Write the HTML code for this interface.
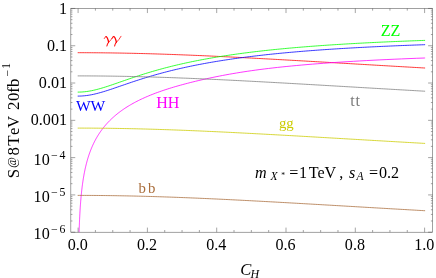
<!DOCTYPE html>
<html><head><meta charset="utf-8"><title>plot</title>
<style>html,body{margin:0;padding:0;background:#fff;}svg{display:block;will-change:transform;}body{font-family:"Liberation Serif",serif;}</style></head>
<body>
<svg width="436" height="278" viewBox="0 0 436 278">
<rect width="436" height="278" fill="#fff"/>
<g fill="none" stroke-width="0.78" stroke-linejoin="round">
<path stroke="#ff0000" d="M77.68 52.70 L79.42 52.70 L81.16 52.70 L82.90 52.70 L84.63 52.71 L86.37 52.71 L88.11 52.72 L89.84 52.73 L91.58 52.74 L93.32 52.75 L95.06 52.76 L96.79 52.77 L98.53 52.79 L100.27 52.80 L102.00 52.82 L103.74 52.84 L105.48 52.86 L107.22 52.88 L108.95 52.90 L110.69 52.92 L112.43 52.95 L114.16 52.97 L115.90 53.00 L117.64 53.03 L119.38 53.06 L121.11 53.09 L122.85 53.12 L124.59 53.15 L126.33 53.19 L128.06 53.22 L129.80 53.26 L131.54 53.29 L133.27 53.33 L135.01 53.37 L136.75 53.41 L138.49 53.46 L140.22 53.50 L141.96 53.54 L143.70 53.59 L145.43 53.63 L147.17 53.68 L148.91 53.73 L150.65 53.78 L152.38 53.83 L154.12 53.88 L155.86 53.93 L157.59 53.99 L159.33 54.04 L161.07 54.10 L162.81 54.15 L164.54 54.21 L166.28 54.27 L168.02 54.33 L169.75 54.39 L171.49 54.45 L173.23 54.51 L174.97 54.58 L176.70 54.64 L178.44 54.71 L180.18 54.77 L181.91 54.84 L183.65 54.91 L185.39 54.97 L187.13 55.04 L188.86 55.11 L190.60 55.18 L192.34 55.26 L194.08 55.33 L195.81 55.40 L197.55 55.47 L199.29 55.55 L201.02 55.62 L202.76 55.70 L204.50 55.78 L206.24 55.85 L207.97 55.93 L209.71 56.01 L211.45 56.09 L213.18 56.17 L214.92 56.25 L216.66 56.33 L218.40 56.41 L220.13 56.50 L221.87 56.58 L223.61 56.66 L225.34 56.75 L227.08 56.83 L228.82 56.92 L230.56 57.00 L232.29 57.09 L234.03 57.18 L235.77 57.26 L237.50 57.35 L239.24 57.44 L240.98 57.53 L242.72 57.62 L244.45 57.71 L246.19 57.80 L247.93 57.89 L249.66 57.98 L251.40 58.07 L253.14 58.16 L254.88 58.26 L256.61 58.35 L258.35 58.44 L260.09 58.53 L261.83 58.63 L263.56 58.72 L265.30 58.82 L267.04 58.91 L268.77 59.01 L270.51 59.10 L272.25 59.20 L273.99 59.29 L275.72 59.39 L277.46 59.49 L279.20 59.58 L280.93 59.68 L282.67 59.78 L284.41 59.87 L286.15 59.97 L287.88 60.07 L289.62 60.17 L291.36 60.27 L293.09 60.37 L294.83 60.46 L296.57 60.56 L298.31 60.66 L300.04 60.76 L301.78 60.86 L303.52 60.96 L305.25 61.06 L306.99 61.16 L308.73 61.26 L310.47 61.36 L312.20 61.46 L313.94 61.56 L315.68 61.66 L317.41 61.76 L319.15 61.86 L320.89 61.97 L322.63 62.07 L324.36 62.17 L326.10 62.27 L327.84 62.37 L329.57 62.47 L331.31 62.57 L333.05 62.67 L334.79 62.78 L336.52 62.88 L338.26 62.98 L340.00 63.08 L341.74 63.18 L343.47 63.28 L345.21 63.39 L346.95 63.49 L348.68 63.59 L350.42 63.69 L352.16 63.79 L353.90 63.89 L355.63 64.00 L357.37 64.10 L359.11 64.20 L360.84 64.30 L362.58 64.40 L364.32 64.51 L366.06 64.61 L367.79 64.71 L369.53 64.81 L371.27 64.91 L373.00 65.01 L374.74 65.12 L376.48 65.22 L378.22 65.32 L379.95 65.42 L381.69 65.52 L383.43 65.62 L385.16 65.72 L386.90 65.82 L388.64 65.93 L390.38 66.03 L392.11 66.13 L393.85 66.23 L395.59 66.33 L397.32 66.43 L399.06 66.53 L400.80 66.63 L402.54 66.73 L404.27 66.83 L406.01 66.93 L407.75 67.03 L409.49 67.13 L411.22 67.23 L412.96 67.33 L414.70 67.43 L416.43 67.53 L418.17 67.63 L419.91 67.73 L421.65 67.83 L423.38 67.93 L425.12 68.03"/>
<path stroke="#00ff00" d="M77.68 92.10 L79.42 92.09 L81.16 92.02 L82.90 91.91 L84.63 91.76 L86.37 91.56 L88.11 91.31 L89.84 91.02 L91.58 90.69 L93.32 90.33 L95.06 89.93 L96.79 89.50 L98.53 89.04 L100.27 88.56 L102.00 88.06 L103.74 87.53 L105.48 86.99 L107.22 86.43 L108.95 85.86 L110.69 85.28 L112.43 84.69 L114.16 84.09 L115.90 83.49 L117.64 82.89 L119.38 82.28 L121.11 81.68 L122.85 81.07 L124.59 80.47 L126.33 79.86 L128.06 79.27 L129.80 78.67 L131.54 78.08 L133.27 77.49 L135.01 76.91 L136.75 76.34 L138.49 75.77 L140.22 75.21 L141.96 74.66 L143.70 74.11 L145.43 73.57 L147.17 73.03 L148.91 72.51 L150.65 71.99 L152.38 71.47 L154.12 70.97 L155.86 70.47 L157.59 69.98 L159.33 69.50 L161.07 69.02 L162.81 68.55 L164.54 68.09 L166.28 67.64 L168.02 67.19 L169.75 66.75 L171.49 66.31 L173.23 65.89 L174.97 65.46 L176.70 65.05 L178.44 64.64 L180.18 64.24 L181.91 63.85 L183.65 63.46 L185.39 63.07 L187.13 62.70 L188.86 62.33 L190.60 61.96 L192.34 61.60 L194.08 61.25 L195.81 60.90 L197.55 60.56 L199.29 60.22 L201.02 59.89 L202.76 59.56 L204.50 59.24 L206.24 58.92 L207.97 58.61 L209.71 58.30 L211.45 58.00 L213.18 57.70 L214.92 57.40 L216.66 57.12 L218.40 56.83 L220.13 56.55 L221.87 56.27 L223.61 56.00 L225.34 55.73 L227.08 55.47 L228.82 55.21 L230.56 54.95 L232.29 54.70 L234.03 54.45 L235.77 54.21 L237.50 53.96 L239.24 53.73 L240.98 53.49 L242.72 53.26 L244.45 53.03 L246.19 52.81 L247.93 52.59 L249.66 52.37 L251.40 52.15 L253.14 51.94 L254.88 51.73 L256.61 51.53 L258.35 51.33 L260.09 51.13 L261.83 50.93 L263.56 50.73 L265.30 50.54 L267.04 50.35 L268.77 50.17 L270.51 49.98 L272.25 49.80 L273.99 49.62 L275.72 49.45 L277.46 49.28 L279.20 49.10 L280.93 48.94 L282.67 48.77 L284.41 48.60 L286.15 48.44 L287.88 48.28 L289.62 48.12 L291.36 47.97 L293.09 47.82 L294.83 47.66 L296.57 47.51 L298.31 47.37 L300.04 47.22 L301.78 47.08 L303.52 46.94 L305.25 46.80 L306.99 46.66 L308.73 46.52 L310.47 46.39 L312.20 46.26 L313.94 46.13 L315.68 46.00 L317.41 45.87 L319.15 45.74 L320.89 45.62 L322.63 45.50 L324.36 45.38 L326.10 45.26 L327.84 45.14 L329.57 45.02 L331.31 44.91 L333.05 44.79 L334.79 44.68 L336.52 44.57 L338.26 44.46 L340.00 44.35 L341.74 44.25 L343.47 44.14 L345.21 44.04 L346.95 43.93 L348.68 43.83 L350.42 43.73 L352.16 43.63 L353.90 43.54 L355.63 43.44 L357.37 43.34 L359.11 43.25 L360.84 43.16 L362.58 43.07 L364.32 42.97 L366.06 42.88 L367.79 42.80 L369.53 42.71 L371.27 42.62 L373.00 42.54 L374.74 42.45 L376.48 42.37 L378.22 42.29 L379.95 42.20 L381.69 42.12 L383.43 42.04 L385.16 41.97 L386.90 41.89 L388.64 41.81 L390.38 41.73 L392.11 41.66 L393.85 41.58 L395.59 41.51 L397.32 41.44 L399.06 41.37 L400.80 41.30 L402.54 41.23 L404.27 41.16 L406.01 41.09 L407.75 41.02 L409.49 40.95 L411.22 40.89 L412.96 40.82 L414.70 40.76 L416.43 40.69 L418.17 40.63 L419.91 40.57 L421.65 40.50 L423.38 40.44 L425.12 40.38"/>
<path stroke="#0000ff" d="M77.68 96.10 L79.42 96.09 L81.16 96.03 L82.90 95.92 L84.63 95.76 L86.37 95.57 L88.11 95.32 L89.84 95.04 L91.58 94.72 L93.32 94.36 L95.06 93.97 L96.79 93.55 L98.53 93.10 L100.27 92.62 L102.00 92.12 L103.74 91.61 L105.48 91.07 L107.22 90.52 L108.95 89.96 L110.69 89.38 L112.43 88.80 L114.16 88.21 L115.90 87.62 L117.64 87.02 L119.38 86.42 L121.11 85.82 L122.85 85.22 L124.59 84.63 L126.33 84.03 L128.06 83.44 L129.80 82.85 L131.54 82.26 L133.27 81.68 L135.01 81.10 L136.75 80.53 L138.49 79.97 L140.22 79.41 L141.96 78.86 L143.70 78.32 L145.43 77.78 L147.17 77.25 L148.91 76.72 L150.65 76.21 L152.38 75.70 L154.12 75.20 L155.86 74.70 L157.59 74.21 L159.33 73.73 L161.07 73.26 L162.81 72.79 L164.54 72.33 L166.28 71.88 L168.02 71.43 L169.75 70.99 L171.49 70.56 L173.23 70.14 L174.97 69.72 L176.70 69.30 L178.44 68.90 L180.18 68.50 L181.91 68.10 L183.65 67.72 L185.39 67.33 L187.13 66.96 L188.86 66.59 L190.60 66.23 L192.34 65.87 L194.08 65.51 L195.81 65.17 L197.55 64.82 L199.29 64.49 L201.02 64.16 L202.76 63.83 L204.50 63.51 L206.24 63.19 L207.97 62.88 L209.71 62.57 L211.45 62.27 L213.18 61.97 L214.92 61.68 L216.66 61.39 L218.40 61.11 L220.13 60.83 L221.87 60.55 L223.61 60.28 L225.34 60.01 L227.08 59.75 L228.82 59.49 L230.56 59.23 L232.29 58.98 L234.03 58.73 L235.77 58.49 L237.50 58.25 L239.24 58.01 L240.98 57.78 L242.72 57.55 L244.45 57.32 L246.19 57.09 L247.93 56.87 L249.66 56.66 L251.40 56.44 L253.14 56.23 L254.88 56.02 L256.61 55.82 L258.35 55.61 L260.09 55.41 L261.83 55.22 L263.56 55.02 L265.30 54.83 L267.04 54.64 L268.77 54.46 L270.51 54.27 L272.25 54.09 L273.99 53.91 L275.72 53.74 L277.46 53.57 L279.20 53.39 L280.93 53.23 L282.67 53.06 L284.41 52.90 L286.15 52.73 L287.88 52.57 L289.62 52.42 L291.36 52.26 L293.09 52.11 L294.83 51.96 L296.57 51.81 L298.31 51.66 L300.04 51.51 L301.78 51.37 L303.52 51.23 L305.25 51.09 L306.99 50.95 L308.73 50.82 L310.47 50.68 L312.20 50.55 L313.94 50.42 L315.68 50.29 L317.41 50.16 L319.15 50.04 L320.89 49.91 L322.63 49.79 L324.36 49.67 L326.10 49.55 L327.84 49.43 L329.57 49.32 L331.31 49.20 L333.05 49.09 L334.79 48.98 L336.52 48.87 L338.26 48.76 L340.00 48.65 L341.74 48.54 L343.47 48.44 L345.21 48.33 L346.95 48.23 L348.68 48.13 L350.42 48.03 L352.16 47.93 L353.90 47.83 L355.63 47.74 L357.37 47.64 L359.11 47.55 L360.84 47.45 L362.58 47.36 L364.32 47.27 L366.06 47.18 L367.79 47.09 L369.53 47.01 L371.27 46.92 L373.00 46.83 L374.74 46.75 L376.48 46.67 L378.22 46.58 L379.95 46.50 L381.69 46.42 L383.43 46.34 L385.16 46.26 L386.90 46.19 L388.64 46.11 L390.38 46.03 L392.11 45.96 L393.85 45.88 L395.59 45.81 L397.32 45.74 L399.06 45.67 L400.80 45.60 L402.54 45.53 L404.27 45.46 L406.01 45.39 L407.75 45.32 L409.49 45.25 L411.22 45.19 L412.96 45.12 L414.70 45.06 L416.43 44.99 L418.17 44.93 L419.91 44.87 L421.65 44.80 L423.38 44.74 L425.12 44.68"/>
<path stroke="#ff00ff" d="M79.10 232.20 L79.10 232.17 L79.12 231.42 L79.15 230.68 L79.17 229.93 L79.20 229.19 L79.22 228.44 L79.25 227.69 L79.27 226.95 L79.30 226.20 L79.33 225.46 L79.36 224.71 L79.39 223.97 L79.42 223.22 L79.45 222.47 L79.48 221.73 L79.51 220.98 L79.54 220.24 L79.58 219.49 L79.61 218.75 L79.65 218.00 L79.68 217.25 L79.72 216.51 L79.76 215.76 L79.80 215.02 L79.84 214.27 L79.88 213.52 L79.92 212.78 L79.96 212.03 L80.00 211.29 L80.05 210.54 L80.09 209.80 L80.14 209.05 L80.19 208.30 L80.24 207.56 L80.29 206.81 L80.34 206.07 L80.39 205.32 L80.44 204.58 L80.50 203.83 L80.55 203.09 L80.61 202.34 L80.67 201.59 L80.73 200.85 L80.79 200.10 L80.85 199.36 L80.92 198.61 L80.98 197.87 L81.05 197.12 L81.12 196.37 L81.19 195.63 L81.26 194.88 L81.33 194.14 L81.41 193.39 L81.49 192.65 L81.56 191.90 L81.65 191.16 L81.73 190.41 L81.81 189.66 L81.90 188.92 L81.99 188.17 L82.08 187.43 L82.17 186.68 L82.27 185.94 L82.36 185.19 L82.46 184.45 L82.56 183.70 L82.67 182.96 L82.77 182.21 L82.88 181.46 L82.99 180.72 L83.11 179.97 L83.23 179.23 L83.34 178.48 L83.47 177.74 L83.59 176.99 L83.72 176.25 L83.85 175.50 L83.98 174.76 L84.12 174.01 L84.26 173.27 L84.41 172.52 L84.55 171.78 L84.70 171.03 L84.86 170.29 L85.01 169.54 L85.17 168.80 L85.34 168.05 L85.51 167.31 L85.68 166.56 L85.86 165.82 L86.04 165.07 L86.22 164.33 L86.41 163.58 L86.61 162.84 L86.80 162.09 L87.01 161.35 L87.21 160.61 L87.43 159.86 L87.64 159.12 L87.87 158.37 L88.09 157.63 L88.33 156.88 L88.56 156.14 L88.81 155.40 L89.06 154.65 L89.31 153.91 L89.57 153.17 L89.84 152.42 L90.11 151.68 L90.39 150.93 L90.68 150.19 L90.97 149.45 L91.27 148.70 L91.58 147.96 L91.89 147.22 L92.22 146.48 L92.54 145.73 L92.88 144.99 L93.23 144.25 L93.58 143.51 L93.94 142.77 L94.31 142.02 L94.68 141.28 L95.07 140.54 L95.47 139.80 L95.87 139.06 L96.28 138.32 L96.71 137.58 L97.14 136.84 L97.59 136.10 L98.04 135.36 L98.50 134.62 L98.98 133.88 L99.47 133.14 L99.96 132.40 L100.47 131.66 L100.99 130.92 L101.53 130.19 L102.07 129.45 L102.63 128.71 L103.20 127.98 L103.79 127.24 L104.38 126.50 L105.00 125.77 L105.62 125.03 L106.26 124.30 L106.92 123.57 L107.59 122.83 L108.28 122.10 L108.98 121.37 L109.70 120.64 L110.44 119.91 L111.19 119.18 L111.96 118.45 L112.75 117.72 L113.56 117.00 L114.38 116.27 L115.23 115.54 L116.09 114.82 L116.98 114.10 L117.88 113.37 L118.81 112.65 L119.76 111.93 L120.73 111.21 L121.72 110.50 L122.74 109.78 L123.78 109.07 L124.84 108.35 L125.93 107.64 L127.04 106.93 L128.18 106.22 L129.35 105.51 L130.54 104.81 L131.77 104.11 L133.02 103.40 L134.30 102.70 L135.60 102.01 L136.94 101.31 L138.31 100.62 L139.72 99.92 L141.15 99.23 L142.62 98.55 L144.12 97.86 L145.66 97.18 L147.24 96.50 L148.85 95.82 L150.49 95.14 L152.18 94.47 L153.91 93.79 L155.67 93.12 L157.48 92.46 L159.33 91.79 L161.22 91.12 L163.16 90.46 L165.14 89.80 L167.16 89.14 L169.24 88.48 L171.36 87.82 L173.53 87.17 L175.76 86.51 L178.03 85.86 L180.36 85.21 L182.74 84.55 L185.18 83.90 L187.67 83.25 L190.23 82.59 L192.84 81.94 L195.51 81.29 L198.24 80.64 L201.04 79.99 L203.91 79.34 L206.84 78.69 L209.84 78.04 L212.90 77.40 L216.04 76.75 L219.26 76.11 L222.55 75.48 L225.91 74.85 L229.35 74.23 L232.88 73.61 L236.48 73.00 L240.17 72.40 L243.95 71.81 L247.81 71.22 L251.76 70.65 L255.81 70.09 L259.95 69.53 L264.18 68.99 L268.52 68.46 L272.95 67.94 L277.49 67.43 L282.13 66.93 L286.89 66.45 L291.75 65.97 L296.73 65.50 L301.82 65.04 L307.03 64.59 L312.36 64.15 L317.82 63.72 L323.40 63.30 L329.12 62.89 L334.96 62.48 L340.95 62.08 L347.07 61.70 L353.33 61.32 L359.75 60.95 L366.31 60.59 L373.02 60.23 L379.89 59.89 L386.92 59.55 L394.11 59.23 L401.47 58.91 L409.00 58.60 L416.71 58.29 L424.60 58.00 L425.12 57.98"/>
<path stroke="#808080" d="M77.68 75.90 L79.42 75.90 L81.16 75.90 L82.90 75.90 L84.63 75.91 L86.37 75.91 L88.11 75.92 L89.84 75.93 L91.58 75.94 L93.32 75.95 L95.06 75.96 L96.79 75.97 L98.53 75.99 L100.27 76.00 L102.00 76.02 L103.74 76.04 L105.48 76.06 L107.22 76.08 L108.95 76.10 L110.69 76.12 L112.43 76.15 L114.16 76.17 L115.90 76.20 L117.64 76.23 L119.38 76.26 L121.11 76.29 L122.85 76.32 L124.59 76.35 L126.33 76.39 L128.06 76.42 L129.80 76.46 L131.54 76.49 L133.27 76.53 L135.01 76.57 L136.75 76.61 L138.49 76.66 L140.22 76.70 L141.96 76.74 L143.70 76.79 L145.43 76.83 L147.17 76.88 L148.91 76.93 L150.65 76.98 L152.38 77.03 L154.12 77.08 L155.86 77.13 L157.59 77.19 L159.33 77.24 L161.07 77.30 L162.81 77.35 L164.54 77.41 L166.28 77.47 L168.02 77.53 L169.75 77.59 L171.49 77.65 L173.23 77.71 L174.97 77.78 L176.70 77.84 L178.44 77.91 L180.18 77.97 L181.91 78.04 L183.65 78.11 L185.39 78.17 L187.13 78.24 L188.86 78.31 L190.60 78.38 L192.34 78.46 L194.08 78.53 L195.81 78.60 L197.55 78.67 L199.29 78.75 L201.02 78.82 L202.76 78.90 L204.50 78.98 L206.24 79.05 L207.97 79.13 L209.71 79.21 L211.45 79.29 L213.18 79.37 L214.92 79.45 L216.66 79.53 L218.40 79.61 L220.13 79.70 L221.87 79.78 L223.61 79.86 L225.34 79.95 L227.08 80.03 L228.82 80.12 L230.56 80.20 L232.29 80.29 L234.03 80.38 L235.77 80.46 L237.50 80.55 L239.24 80.64 L240.98 80.73 L242.72 80.82 L244.45 80.91 L246.19 81.00 L247.93 81.09 L249.66 81.18 L251.40 81.27 L253.14 81.36 L254.88 81.46 L256.61 81.55 L258.35 81.64 L260.09 81.73 L261.83 81.83 L263.56 81.92 L265.30 82.02 L267.04 82.11 L268.77 82.21 L270.51 82.30 L272.25 82.40 L273.99 82.49 L275.72 82.59 L277.46 82.69 L279.20 82.78 L280.93 82.88 L282.67 82.98 L284.41 83.07 L286.15 83.17 L287.88 83.27 L289.62 83.37 L291.36 83.47 L293.09 83.57 L294.83 83.66 L296.57 83.76 L298.31 83.86 L300.04 83.96 L301.78 84.06 L303.52 84.16 L305.25 84.26 L306.99 84.36 L308.73 84.46 L310.47 84.56 L312.20 84.66 L313.94 84.76 L315.68 84.86 L317.41 84.96 L319.15 85.06 L320.89 85.17 L322.63 85.27 L324.36 85.37 L326.10 85.47 L327.84 85.57 L329.57 85.67 L331.31 85.77 L333.05 85.87 L334.79 85.98 L336.52 86.08 L338.26 86.18 L340.00 86.28 L341.74 86.38 L343.47 86.48 L345.21 86.59 L346.95 86.69 L348.68 86.79 L350.42 86.89 L352.16 86.99 L353.90 87.09 L355.63 87.20 L357.37 87.30 L359.11 87.40 L360.84 87.50 L362.58 87.60 L364.32 87.71 L366.06 87.81 L367.79 87.91 L369.53 88.01 L371.27 88.11 L373.00 88.21 L374.74 88.32 L376.48 88.42 L378.22 88.52 L379.95 88.62 L381.69 88.72 L383.43 88.82 L385.16 88.92 L386.90 89.02 L388.64 89.13 L390.38 89.23 L392.11 89.33 L393.85 89.43 L395.59 89.53 L397.32 89.63 L399.06 89.73 L400.80 89.83 L402.54 89.93 L404.27 90.03 L406.01 90.13 L407.75 90.23 L409.49 90.33 L411.22 90.43 L412.96 90.53 L414.70 90.63 L416.43 90.73 L418.17 90.83 L419.91 90.93 L421.65 91.03 L423.38 91.13 L425.12 91.23"/>
<path stroke="#cccc00" d="M77.68 128.10 L79.42 128.10 L81.16 128.10 L82.90 128.10 L84.63 128.11 L86.37 128.11 L88.11 128.12 L89.84 128.13 L91.58 128.14 L93.32 128.15 L95.06 128.16 L96.79 128.17 L98.53 128.19 L100.27 128.20 L102.00 128.22 L103.74 128.24 L105.48 128.26 L107.22 128.28 L108.95 128.30 L110.69 128.32 L112.43 128.35 L114.16 128.37 L115.90 128.40 L117.64 128.43 L119.38 128.46 L121.11 128.49 L122.85 128.52 L124.59 128.55 L126.33 128.59 L128.06 128.62 L129.80 128.66 L131.54 128.69 L133.27 128.73 L135.01 128.77 L136.75 128.81 L138.49 128.86 L140.22 128.90 L141.96 128.94 L143.70 128.99 L145.43 129.03 L147.17 129.08 L148.91 129.13 L150.65 129.18 L152.38 129.23 L154.12 129.28 L155.86 129.33 L157.59 129.39 L159.33 129.44 L161.07 129.50 L162.81 129.55 L164.54 129.61 L166.28 129.67 L168.02 129.73 L169.75 129.79 L171.49 129.85 L173.23 129.91 L174.97 129.98 L176.70 130.04 L178.44 130.11 L180.18 130.17 L181.91 130.24 L183.65 130.31 L185.39 130.37 L187.13 130.44 L188.86 130.51 L190.60 130.58 L192.34 130.66 L194.08 130.73 L195.81 130.80 L197.55 130.87 L199.29 130.95 L201.02 131.02 L202.76 131.10 L204.50 131.18 L206.24 131.25 L207.97 131.33 L209.71 131.41 L211.45 131.49 L213.18 131.57 L214.92 131.65 L216.66 131.73 L218.40 131.81 L220.13 131.90 L221.87 131.98 L223.61 132.06 L225.34 132.15 L227.08 132.23 L228.82 132.32 L230.56 132.40 L232.29 132.49 L234.03 132.58 L235.77 132.66 L237.50 132.75 L239.24 132.84 L240.98 132.93 L242.72 133.02 L244.45 133.11 L246.19 133.20 L247.93 133.29 L249.66 133.38 L251.40 133.47 L253.14 133.56 L254.88 133.66 L256.61 133.75 L258.35 133.84 L260.09 133.93 L261.83 134.03 L263.56 134.12 L265.30 134.22 L267.04 134.31 L268.77 134.41 L270.51 134.50 L272.25 134.60 L273.99 134.69 L275.72 134.79 L277.46 134.89 L279.20 134.98 L280.93 135.08 L282.67 135.18 L284.41 135.27 L286.15 135.37 L287.88 135.47 L289.62 135.57 L291.36 135.67 L293.09 135.77 L294.83 135.86 L296.57 135.96 L298.31 136.06 L300.04 136.16 L301.78 136.26 L303.52 136.36 L305.25 136.46 L306.99 136.56 L308.73 136.66 L310.47 136.76 L312.20 136.86 L313.94 136.96 L315.68 137.06 L317.41 137.16 L319.15 137.26 L320.89 137.37 L322.63 137.47 L324.36 137.57 L326.10 137.67 L327.84 137.77 L329.57 137.87 L331.31 137.97 L333.05 138.07 L334.79 138.18 L336.52 138.28 L338.26 138.38 L340.00 138.48 L341.74 138.58 L343.47 138.68 L345.21 138.79 L346.95 138.89 L348.68 138.99 L350.42 139.09 L352.16 139.19 L353.90 139.29 L355.63 139.40 L357.37 139.50 L359.11 139.60 L360.84 139.70 L362.58 139.80 L364.32 139.91 L366.06 140.01 L367.79 140.11 L369.53 140.21 L371.27 140.31 L373.00 140.41 L374.74 140.52 L376.48 140.62 L378.22 140.72 L379.95 140.82 L381.69 140.92 L383.43 141.02 L385.16 141.12 L386.90 141.22 L388.64 141.33 L390.38 141.43 L392.11 141.53 L393.85 141.63 L395.59 141.73 L397.32 141.83 L399.06 141.93 L400.80 142.03 L402.54 142.13 L404.27 142.23 L406.01 142.33 L407.75 142.43 L409.49 142.53 L411.22 142.63 L412.96 142.73 L414.70 142.83 L416.43 142.93 L418.17 143.03 L419.91 143.13 L421.65 143.23 L423.38 143.33 L425.12 143.43"/>
<path stroke="#aa6e3c" d="M77.68 195.40 L79.42 195.40 L81.16 195.40 L82.90 195.40 L84.63 195.41 L86.37 195.41 L88.11 195.42 L89.84 195.43 L91.58 195.44 L93.32 195.45 L95.06 195.46 L96.79 195.47 L98.53 195.49 L100.27 195.50 L102.00 195.52 L103.74 195.54 L105.48 195.56 L107.22 195.58 L108.95 195.60 L110.69 195.62 L112.43 195.65 L114.16 195.67 L115.90 195.70 L117.64 195.73 L119.38 195.76 L121.11 195.79 L122.85 195.82 L124.59 195.85 L126.33 195.89 L128.06 195.92 L129.80 195.96 L131.54 195.99 L133.27 196.03 L135.01 196.07 L136.75 196.11 L138.49 196.16 L140.22 196.20 L141.96 196.24 L143.70 196.29 L145.43 196.33 L147.17 196.38 L148.91 196.43 L150.65 196.48 L152.38 196.53 L154.12 196.58 L155.86 196.63 L157.59 196.69 L159.33 196.74 L161.07 196.80 L162.81 196.85 L164.54 196.91 L166.28 196.97 L168.02 197.03 L169.75 197.09 L171.49 197.15 L173.23 197.21 L174.97 197.28 L176.70 197.34 L178.44 197.41 L180.18 197.47 L181.91 197.54 L183.65 197.61 L185.39 197.67 L187.13 197.74 L188.86 197.81 L190.60 197.88 L192.34 197.96 L194.08 198.03 L195.81 198.10 L197.55 198.17 L199.29 198.25 L201.02 198.32 L202.76 198.40 L204.50 198.48 L206.24 198.55 L207.97 198.63 L209.71 198.71 L211.45 198.79 L213.18 198.87 L214.92 198.95 L216.66 199.03 L218.40 199.11 L220.13 199.20 L221.87 199.28 L223.61 199.36 L225.34 199.45 L227.08 199.53 L228.82 199.62 L230.56 199.70 L232.29 199.79 L234.03 199.88 L235.77 199.96 L237.50 200.05 L239.24 200.14 L240.98 200.23 L242.72 200.32 L244.45 200.41 L246.19 200.50 L247.93 200.59 L249.66 200.68 L251.40 200.77 L253.14 200.86 L254.88 200.96 L256.61 201.05 L258.35 201.14 L260.09 201.23 L261.83 201.33 L263.56 201.42 L265.30 201.52 L267.04 201.61 L268.77 201.71 L270.51 201.80 L272.25 201.90 L273.99 201.99 L275.72 202.09 L277.46 202.19 L279.20 202.28 L280.93 202.38 L282.67 202.48 L284.41 202.57 L286.15 202.67 L287.88 202.77 L289.62 202.87 L291.36 202.97 L293.09 203.07 L294.83 203.16 L296.57 203.26 L298.31 203.36 L300.04 203.46 L301.78 203.56 L303.52 203.66 L305.25 203.76 L306.99 203.86 L308.73 203.96 L310.47 204.06 L312.20 204.16 L313.94 204.26 L315.68 204.36 L317.41 204.46 L319.15 204.56 L320.89 204.67 L322.63 204.77 L324.36 204.87 L326.10 204.97 L327.84 205.07 L329.57 205.17 L331.31 205.27 L333.05 205.37 L334.79 205.48 L336.52 205.58 L338.26 205.68 L340.00 205.78 L341.74 205.88 L343.47 205.98 L345.21 206.09 L346.95 206.19 L348.68 206.29 L350.42 206.39 L352.16 206.49 L353.90 206.59 L355.63 206.70 L357.37 206.80 L359.11 206.90 L360.84 207.00 L362.58 207.10 L364.32 207.21 L366.06 207.31 L367.79 207.41 L369.53 207.51 L371.27 207.61 L373.00 207.71 L374.74 207.82 L376.48 207.92 L378.22 208.02 L379.95 208.12 L381.69 208.22 L383.43 208.32 L385.16 208.42 L386.90 208.52 L388.64 208.63 L390.38 208.73 L392.11 208.83 L393.85 208.93 L395.59 209.03 L397.32 209.13 L399.06 209.23 L400.80 209.33 L402.54 209.43 L404.27 209.53 L406.01 209.63 L407.75 209.73 L409.49 209.83 L411.22 209.93 L412.96 210.03 L414.70 210.13 L416.43 210.23 L418.17 210.33 L419.91 210.43 L421.65 210.53 L423.38 210.63 L425.12 210.73"/>
</g>
<g fill="none" stroke="#4a4a4a" stroke-width="0.52">
<rect x="70.85" y="8.45" width="361.65" height="223.75"/>
<path stroke-width="0.5" d="M78.10 232.20 v-4.60 M78.10 8.45 v4.60 M95.42 232.20 v-2.20 M95.42 8.45 v2.20 M112.75 232.20 v-2.20 M112.75 8.45 v2.20 M130.07 232.20 v-2.20 M130.07 8.45 v2.20 M147.40 232.20 v-4.60 M147.40 8.45 v4.60 M164.72 232.20 v-2.20 M164.72 8.45 v2.20 M182.05 232.20 v-2.20 M182.05 8.45 v2.20 M199.38 232.20 v-2.20 M199.38 8.45 v2.20 M216.70 232.20 v-4.60 M216.70 8.45 v4.60 M234.03 232.20 v-2.20 M234.03 8.45 v2.20 M251.35 232.20 v-2.20 M251.35 8.45 v2.20 M268.68 232.20 v-2.20 M268.68 8.45 v2.20 M286.00 232.20 v-4.60 M286.00 8.45 v4.60 M303.32 232.20 v-2.20 M303.32 8.45 v2.20 M320.65 232.20 v-2.20 M320.65 8.45 v2.20 M337.98 232.20 v-2.20 M337.98 8.45 v2.20 M355.30 232.20 v-4.60 M355.30 8.45 v4.60 M372.62 232.20 v-2.20 M372.62 8.45 v2.20 M389.95 232.20 v-2.20 M389.95 8.45 v2.20 M407.27 232.20 v-2.20 M407.27 8.45 v2.20 M424.60 232.20 v-4.60 M424.60 8.45 v4.60 M70.85 8.45 h4.4 M432.50 8.45 h-4.4 M70.85 34.52 h1.6 M432.50 34.52 h-1.6 M70.85 27.95 h1.6 M432.50 27.95 h-1.6 M70.85 23.29 h1.6 M432.50 23.29 h-1.6 M70.85 19.68 h1.6 M432.50 19.68 h-1.6 M70.85 16.72 h1.6 M432.50 16.72 h-1.6 M70.85 14.23 h1.6 M432.50 14.23 h-1.6 M70.85 12.06 h1.6 M432.50 12.06 h-1.6 M70.85 10.16 h1.6 M432.50 10.16 h-1.6 M70.85 45.74 h4.4 M432.50 45.74 h-4.4 M70.85 71.81 h1.6 M432.50 71.81 h-1.6 M70.85 65.24 h1.6 M432.50 65.24 h-1.6 M70.85 60.58 h1.6 M432.50 60.58 h-1.6 M70.85 56.97 h1.6 M432.50 56.97 h-1.6 M70.85 54.01 h1.6 M432.50 54.01 h-1.6 M70.85 51.52 h1.6 M432.50 51.52 h-1.6 M70.85 49.36 h1.6 M432.50 49.36 h-1.6 M70.85 47.45 h1.6 M432.50 47.45 h-1.6 M70.85 83.03 h4.4 M432.50 83.03 h-4.4 M70.85 109.10 h1.6 M432.50 109.10 h-1.6 M70.85 102.53 h1.6 M432.50 102.53 h-1.6 M70.85 97.87 h1.6 M432.50 97.87 h-1.6 M70.85 94.26 h1.6 M432.50 94.26 h-1.6 M70.85 91.31 h1.6 M432.50 91.31 h-1.6 M70.85 88.81 h1.6 M432.50 88.81 h-1.6 M70.85 86.65 h1.6 M432.50 86.65 h-1.6 M70.85 84.74 h1.6 M432.50 84.74 h-1.6 M70.85 120.33 h4.4 M432.50 120.33 h-4.4 M70.85 146.39 h1.6 M432.50 146.39 h-1.6 M70.85 139.82 h1.6 M432.50 139.82 h-1.6 M70.85 135.16 h1.6 M432.50 135.16 h-1.6 M70.85 131.55 h1.6 M432.50 131.55 h-1.6 M70.85 128.60 h1.6 M432.50 128.60 h-1.6 M70.85 126.10 h1.6 M432.50 126.10 h-1.6 M70.85 123.94 h1.6 M432.50 123.94 h-1.6 M70.85 122.03 h1.6 M432.50 122.03 h-1.6 M70.85 157.62 h4.4 M432.50 157.62 h-4.4 M70.85 183.68 h1.6 M432.50 183.68 h-1.6 M70.85 177.12 h1.6 M432.50 177.12 h-1.6 M70.85 172.46 h1.6 M432.50 172.46 h-1.6 M70.85 168.84 h1.6 M432.50 168.84 h-1.6 M70.85 165.89 h1.6 M432.50 165.89 h-1.6 M70.85 163.39 h1.6 M432.50 163.39 h-1.6 M70.85 161.23 h1.6 M432.50 161.23 h-1.6 M70.85 159.32 h1.6 M432.50 159.32 h-1.6 M70.85 194.91 h4.4 M432.50 194.91 h-4.4 M70.85 220.97 h1.6 M432.50 220.97 h-1.6 M70.85 214.41 h1.6 M432.50 214.41 h-1.6 M70.85 209.75 h1.6 M432.50 209.75 h-1.6 M70.85 206.13 h1.6 M432.50 206.13 h-1.6 M70.85 203.18 h1.6 M432.50 203.18 h-1.6 M70.85 200.68 h1.6 M432.50 200.68 h-1.6 M70.85 198.52 h1.6 M432.50 198.52 h-1.6 M70.85 196.61 h1.6 M432.50 196.61 h-1.6 M70.85 232.20 h4.4 M432.50 232.20 h-4.4"/>
</g>
<g font-family="'Liberation Serif', serif" font-size="16.1" fill="#000">
<text x="77.70" y="249.9" text-anchor="middle">0.0</text>
<text x="147.00" y="249.9" text-anchor="middle">0.2</text>
<text x="216.30" y="249.9" text-anchor="middle">0.4</text>
<text x="285.60" y="249.9" text-anchor="middle">0.6</text>
<text x="354.90" y="249.9" text-anchor="middle">0.8</text>
<text x="424.20" y="249.9" text-anchor="middle">1.0</text>
<text x="67.0" y="13.55" text-anchor="end">1</text>
<text x="67.0" y="50.84" text-anchor="end">0.1</text>
<text x="67.0" y="88.13" text-anchor="end">0.01</text>
<text x="67.0" y="125.42" text-anchor="end">0.001</text>
<text x="33.6" y="164.82">10</text>
<text x="50.9" y="158.72" font-size="11.8">−</text>
<text x="59.6" y="158.52" font-size="11.8">4</text>
<text x="33.6" y="202.11">10</text>
<text x="50.9" y="196.01" font-size="11.8">−</text>
<text x="59.6" y="195.81" font-size="11.8">5</text>
<text x="33.6" y="239.40">10</text>
<text x="50.9" y="233.30" font-size="11.8">−</text>
<text x="59.6" y="233.10" font-size="11.8">6</text>
<g transform="translate(0.00,0)" fill="none" stroke="#ff0000" stroke-linecap="round"><path stroke-width="0.8" d="M104.3 38.5 C104.8 37.3 105.5 36.6 106.1 36.6"/><path stroke-width="1.3" d="M106.0 36.7 C107.3 36.9 108.0 39.6 108.6 42.0"/><path stroke-width="0.75" d="M113.3 36.3 C112.2 38.4 110.2 40.8 108.6 42.4"/><path stroke-width="1.05" d="M108.6 42.2 C107.7 43.4 107.0 44.8 106.9 46.0"/></g>
<g transform="translate(7.75,0)" fill="none" stroke="#ff0000" stroke-linecap="round"><path stroke-width="0.8" d="M104.3 38.5 C104.8 37.3 105.5 36.6 106.1 36.6"/><path stroke-width="1.3" d="M106.0 36.7 C107.3 36.9 108.0 39.6 108.6 42.0"/><path stroke-width="0.75" d="M113.3 36.3 C112.2 38.4 110.2 40.8 108.6 42.4"/><path stroke-width="1.05" d="M108.6 42.2 C107.7 43.4 107.0 44.8 106.9 46.0"/></g>
<text x="380.7" y="36.3" fill="#00ff00">ZZ</text>
<text x="75.9" y="111.1" fill="#0000ff" font-size="15.6">WW</text>
<text x="156.2" y="107.9" fill="#ff00ff">HH</text>
<text x="350.2" y="105.9" fill="#7c7c7c" letter-spacing="0.8">tt</text>
<text x="278.9" y="127.5" fill="#cccc00" font-size="14.8">gg</text>
<text x="138.5" y="193.4" fill="#aa6e3c" font-size="14.8" letter-spacing="2.1">bb</text>
<text x="254.9" y="177.6" font-style="italic">m</text>
<text x="270.6" y="180.0" font-style="italic" font-size="11.6">X</text>
<text x="281.3" y="178.1" font-size="7.5">*</text>
<text x="289.2" y="177.6">=</text>
<text x="299.0" y="177.6">1</text>
<text x="308.8" y="177.6">Te</text>
<text x="324.6" y="177.6">V</text>
<text x="339.3" y="177.6">,</text>
<text x="349.1" y="177.6" font-style="italic">s</text>
<text x="356.4" y="180.0" font-style="italic" font-size="11.6">A</text>
<text x="369" y="177.6">=</text>
<text x="378.9" y="177.6">0.2</text>
<text x="240.2" y="274.7" font-style="italic" font-size="16.6">C</text>
<text x="250.6" y="277.8" font-style="italic" font-size="12">H</text>
<g transform="translate(18.7,177.8) rotate(-90)" font-size="16.8">
<text x="-0.4" y="0">S</text>
<text x="10.0" y="-2.4" font-size="11.5">@</text>
<text x="22.3" y="0">8</text>
<text x="32.0" y="0">T</text>
<text x="42.8" y="0">e</text>
<text x="49.9" y="0">V</text>
<text x="67.9" y="0" letter-spacing="0.6">20</text>
<text x="85.1" y="0">fb</text>
<text x="101.2" y="-8.1" font-size="11.5">−</text>
<text x="109.1" y="-8.8" font-size="11.5">1</text>
</g>
</g>
</svg>
</body></html>
